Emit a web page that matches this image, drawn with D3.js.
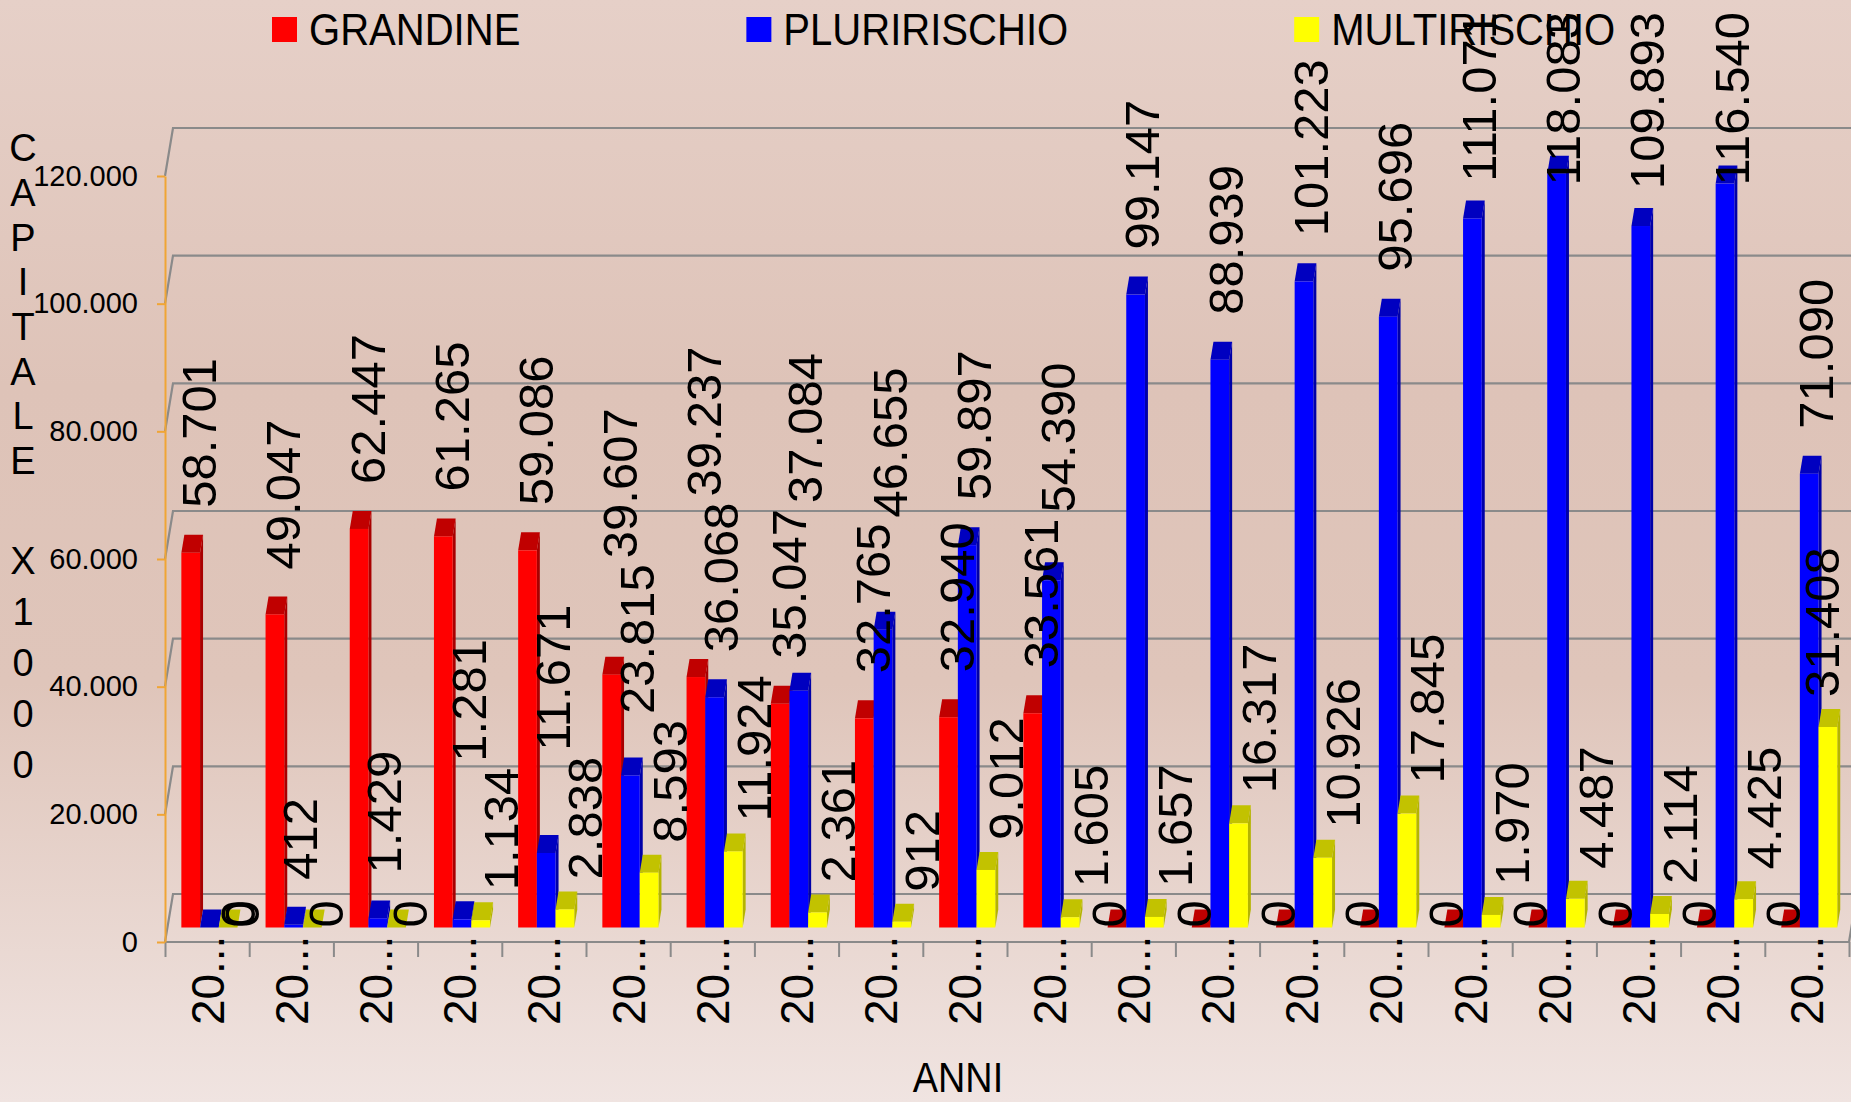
<!DOCTYPE html>
<html>
<head>
<meta charset="utf-8">
<script src="https://cdn.jsdelivr.net/npm/d3@7"></script>
<style>
  html, body { margin: 0; padding: 0; overflow: hidden; }
  svg { display: block; font-family: "Liberation Sans", Arial, sans-serif; }
</style>
</head>
<body>
<svg id="chart" width="1851" height="1102"></svg>
<script>
// --- data (capitale x 1000) ---
const categories = ["20...", "20...", "20...", "20...", "20...", "20...", "20...", "20...", "20...", "20...",
                    "20...", "20...", "20...", "20...", "20...", "20...", "20...", "20...", "20...", "20..."];
const seriesNames = ["GRANDINE", "PLURIRISCHIO", "MULTIRISCHIO"];
const grandine     = [58701, 49047, 62447, 61265, 59086, 39607, 39237, 35047, 32765, 32940,
                      33561, 0, 0, 0, 0, 0, 0, 0, 0, 0];
const pluririschio = [0, 412, 1429, 1281, 11671, 23815, 36068, 37084, 46655, 59897,
                      54390, 99147, 88939, 101223, 95696, 111071, 118083, 109893, 116540, 71090];
const multirischio = [0, 0, 0, 1134, 2838, 8593, 11924, 2361, 912, 9012,
                      1605, 1657, 16317, 10926, 17845, 1970, 4487, 2114, 4425, 31408];
const yTicks = [0, 20000, 40000, 60000, 80000, 100000, 120000];
const yTitleTop = "CAPITALE";
const yTitleBottom = "X1000";
const xTitle = "ANNI";

const seriesValues = [grandine, pluririschio, multirischio];

// --- look ---
const frontColors = ["#FF0000", "#0000FF", "#FFFF00"];
const topColors   = ["#C00000", "#0000C0", "#C2C200"];
const sideColors  = ["#A80000", "#0000A8", "#B4B400"];
const gridColor = "#8a8a8a";
const axisColor = "#F0A535";

const wall = { dx: 8, dy: -48 };        // depth of the 3D back wall
const barShift = { dx: 2.3, dy: -14.5 }; // bars stand a bit back from the front edge
const barDepth = { dx: 3, dy: -18 };    // depth of a single bar

const svg = d3.select("#chart");
const W = 1851, H = 1102;

const fmt = d3.formatLocale({ decimal: ",", thousands: ".", grouping: [3], currency: ["€", ""] }).format(",d");

// background gradient
const defs = svg.append("defs");
const grad = defs.append("linearGradient").attr("id", "bg").attr("x1", 0).attr("y1", 0).attr("x2", 0).attr("y2", 1);
grad.append("stop").attr("offset", "0%").attr("stop-color", "#E6D0C8");
grad.append("stop").attr("offset", "35%").attr("stop-color", "#DEC3B8");
grad.append("stop").attr("offset", "62%").attr("stop-color", "#DFC5BA");
grad.append("stop").attr("offset", "100%").attr("stop-color", "#F0E4E1");
svg.append("rect").attr("width", W).attr("height", H).attr("fill", "url(#bg)");

// scales
const x0 = d3.scaleBand().domain(d3.range(categories.length)).range([165, 1849]);
const xEdge = d3.scaleLinear().domain([0, categories.length]).range([165, 1849]);
const pad = (x0.bandwidth() - 3 * 18.7) / 2;
const x1 = d3.scaleBand().domain(seriesNames).range([pad, x0.bandwidth() - pad]);
const y = d3.scaleLinear().domain([0, 120000]).range([942, 176]);

// back wall gridlines (with slanted side-wall piece)
svg.append("g").selectAll("path")
  .data(yTicks)
  .join("path")
    .attr("d", t => `M${xEdge(0)},${y(t)} L${xEdge(0) + wall.dx},${y(t) + wall.dy} L${W + 20},${y(t) + wall.dy}`)
    .attr("fill", "none")
    .attr("stroke", gridColor)
    .attr("stroke-width", 2.2);

// floor front edge
const xEnd = xEdge(categories.length);
svg.append("path")
  .attr("d", `M${xEdge(0)},${y(0)} L${xEnd},${y(0)} L${xEnd + wall.dx},${y(0) + wall.dy}`)
  .attr("fill", "none")
  .attr("stroke", gridColor)
  .attr("stroke-width", 2.2);

// category tick marks
const xTickAxis = d3.axisBottom(xEdge).tickValues(d3.range(categories.length + 1)).tickSize(15).tickFormat("");
const xTickG = svg.append("g").attr("transform", `translate(0,${y(0)})`).call(xTickAxis);
xTickG.select(".domain").remove();
xTickG.selectAll(".tick line").attr("stroke", gridColor).attr("stroke-width", 2);

// y axis
const yAxis = d3.axisLeft(y).tickValues(yTicks).tickSize(8).tickSizeOuter(0).tickPadding(19).tickFormat(fmt);
const yG = svg.append("g").attr("transform", `translate(${xEdge(0)},0)`).call(yAxis);
yG.select(".domain").attr("stroke", axisColor).attr("stroke-width", 2);
yG.selectAll(".tick line").attr("stroke", axisColor).attr("stroke-width", 2);
yG.selectAll(".tick text")
  .attr("font-size", 29)
  .attr("font-family", "Liberation Sans, Arial, sans-serif")
  .attr("fill", "#000");

// category labels
const xAxis = d3.axisBottom(x0).tickSize(0).tickFormat(i => categories[i]);
const xG = svg.append("g").attr("transform", `translate(0,${y(0)})`).call(xAxis);
xG.select(".domain").remove();
xG.selectAll(".tick text")
  .attr("transform", "rotate(-90)")
  .attr("x", 6.4)
  .attr("y", 0)
  .attr("dy", "0.358em")
  .attr("text-anchor", "end")
  .attr("font-size", 46)
  .attr("font-family", "Liberation Sans, Arial, sans-serif")
  .attr("fill", "#000");

// bars
const bars = [];
categories.forEach((c, i) => {
  seriesNames.forEach((name, s) => {
    const v = seriesValues[s][i];
    const L = x0(i) + x1(name) + barShift.dx;
    const w = x1.bandwidth();
    const T = y(v) + barShift.dy;
    const B = y(0) + barShift.dy;
    bars.push({ i, s, v, L, w, T, B });
  });
});

const barG = svg.append("g").selectAll("g").data(bars).join("g");
barG.append("path")
  .attr("d", d => `M${d.L + d.w},${d.T} L${d.L + d.w + barDepth.dx},${d.T + barDepth.dy} L${d.L + d.w + barDepth.dx},${d.B + barDepth.dy} L${d.L + d.w},${d.B}Z`)
  .attr("fill", d => sideColors[d.s]);
barG.append("path")
  .attr("d", d => `M${d.L},${d.T} L${d.L + d.w},${d.T} L${d.L + d.w + barDepth.dx},${d.T + barDepth.dy} L${d.L + barDepth.dx},${d.T + barDepth.dy}Z`)
  .attr("fill", d => topColors[d.s]);
barG.append("rect")
  .attr("x", d => d.L)
  .attr("y", d => d.T)
  .attr("width", d => d.w)
  .attr("height", d => d.B - d.T)
  .attr("fill", d => frontColors[d.s]);

// data labels
const labelGap = [45, 45, 30];
const labelDx = [8, 6, 20];
const zeroDx = [-8, 28, 13];
const labelData = bars.map(d => ({
  ...d,
  cx: Math.min(W - 30, d.L + d.w / 2 + (d.v === 0 ? zeroDx[d.s] : labelDx[d.s])),
  start: d.v === 0 ? d.T : d.T - labelGap[d.s]
}));

const labelText = svg.append("g").selectAll("text")
  .data(labelData)
  .join("text")
    .attr("font-size", 49)
    .attr("fill", "#000")
    .attr("dy", "0.358em")
    .text(d => fmt(d.v));

labelText.each(function (d) { d.len = this.getComputedTextLength(); });

// keep labels of one category from piling on each other: lower ones stay, higher ones move up
d3.groups(labelData.filter(d => d.v > 0), d => d.i).forEach(([, group]) => {
  group.sort((a, b) => b.start - a.start);
  const placed = [];
  group.forEach(d => {
    let moved = true;
    while (moved) {
      moved = false;
      placed.forEach(p => {
        if (Math.abs(p.cx - d.cx) < 34 && d.start > p.start - p.len && d.start - d.len < p.start) {
          d.start = p.start - p.len - 6;
          moved = true;
        }
      });
    }
    if (d.start - d.len < 12) d.start = 12 + d.len;
    placed.push(d);
  });
});

labelText.attr("transform", d => `translate(${d.cx},${d.start}) rotate(-90)`);

// y title, one letter per line
svg.append("g").selectAll("text")
  .data(yTitleTop.split(""))
  .join("text")
    .attr("x", 23)
    .attr("y", (ch, k) => 147.6 + k * 44.7)
    .attr("dy", "0.358em")
    .attr("text-anchor", "middle")
    .attr("font-size", 38)
    .text(ch => ch);
svg.append("g").selectAll("text")
  .data(yTitleBottom.split(""))
  .join("text")
    .attr("x", 23)
    .attr("y", (ch, k) => 560.7 + k * 51)
    .attr("dy", "0.358em")
    .attr("text-anchor", "middle")
    .attr("font-size", 38)
    .text(ch => ch);

// x title
svg.append("text")
  .attr("transform", "translate(958,1092) scale(0.9,1)")
  .attr("text-anchor", "middle")
  .attr("font-size", 42)
  .text(xTitle);

// legend
const legend = svg.append("g");
let lx = 272;
seriesNames.forEach((name, s) => {
  legend.append("rect")
    .attr("x", lx).attr("y", 17).attr("width", 25).attr("height", 25)
    .attr("fill", frontColors[s]);
  const t = legend.append("text")
    .attr("transform", `translate(${lx + 37},45.4) scale(0.9,1)`)
    .attr("font-size", 44.5)
    .text(name);
  lx += 37 + t.node().getComputedTextLength() * 0.9 + 226;
});
</script>
</body>
</html>
